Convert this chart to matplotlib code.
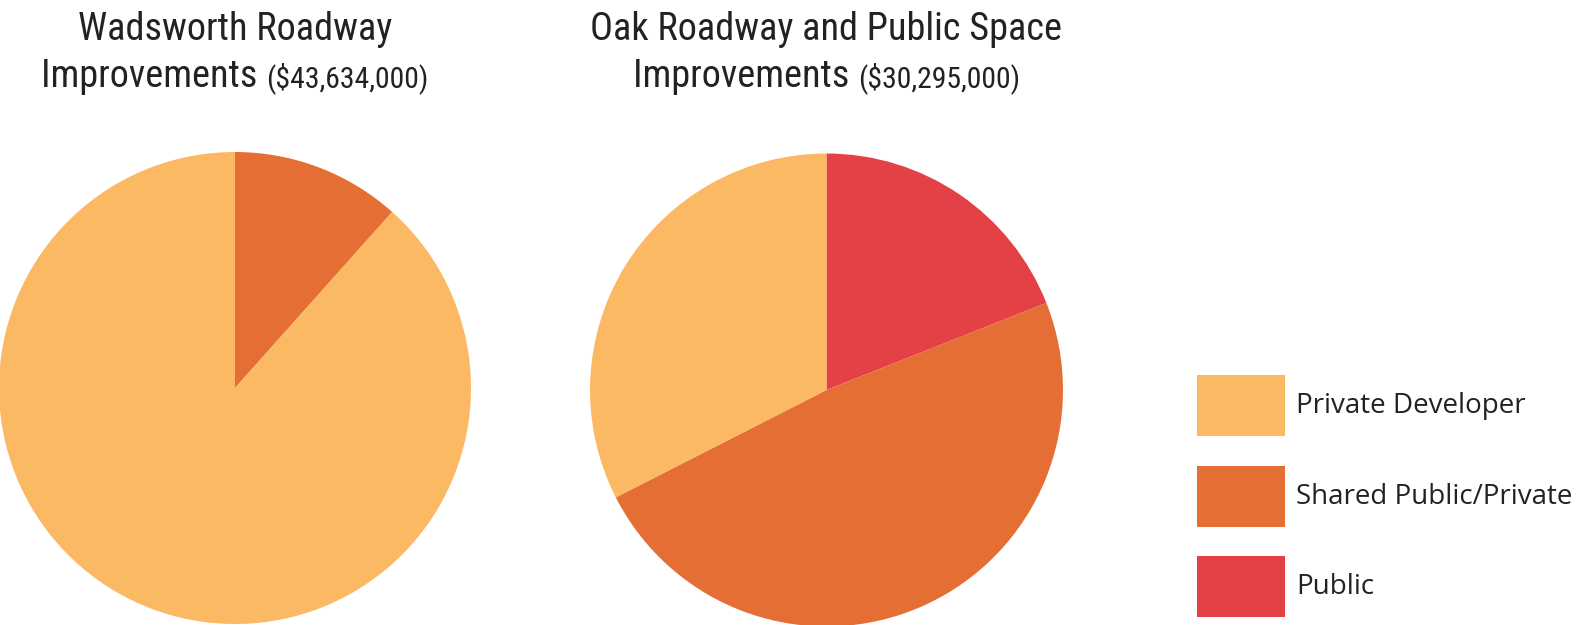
import matplotlib
matplotlib.use("Agg")
import matplotlib.pyplot as plt
from matplotlib.patches import Rectangle
from matplotlib import font_manager

# Funding shares (percent of each project's total cost)
categories = ["Public", "Shared Public/Private", "Private Developer"]
colors = ["#E44147", "#E56E35", "#FCB964"]
wadsworth_share = [0.0, 11.6, 88.4]
oak_share = [19.0, 48.5, 32.5]

titles = [
    ("Wadsworth Roadway", "Improvements", "($43,634,000)"),
    ("Oak Roadway and Public Space", "Improvements", "($30,295,000)"),
]
legend_order = ["Private Developer", "Shared Public/Private", "Public"]

W, H = 1588, 625
fig = plt.figure(figsize=(W / 100, H / 100), dpi=100)
fig.patch.set_facecolor("white")

# Pick a narrow face for the titles if one is installed
installed = {f.name for f in font_manager.fontManager.ttflist}
preferred = ["DejaVu Sans Condensed", "Liberation Sans Narrow",
             "Roboto Condensed", "Noto Sans Condensed", "Open Sans Condensed"]
narrow = [n for n in preferred if n in installed]
narrow += sorted(n for n in installed
                 if ("Condensed" in n or "Narrow" in n) and n not in narrow)
title_font = (narrow[:1] or ["Roboto"]) + ["DejaVu Sans"]
title_size = 27.5 if narrow else 23
text_color = "#222222"


def add_pie(values, cx, cy, r):
    ax = fig.add_axes([(cx - r) / W, (H - cy - r) / H, 2 * r / W, 2 * r / H])
    ax.pie(values, colors=colors, startangle=90, counterclock=False,
           radius=1.0, wedgeprops=dict(linewidth=0))
    ax.set_xlim(-1, 1)
    ax.set_ylim(-1, 1)
    ax.axis("off")
    return ax


add_pie(wadsworth_share, 235, 388, 236)
add_pie(oak_share, 826.5, 390, 236.5)

# Titles: two lines, the cost in a smaller size after the second line
renderer = fig.canvas.get_renderer()
for (line1, line2, cost), cx in zip(titles, [235, 826.5]):
    fig.text(cx / W, 1 - 40 / H, line1, ha="center", va="baseline",
             fontsize=title_size, family=title_font, color=text_color)
    t_main = fig.text(0, 1 - 87 / H, line2 + " ", ha="left", va="baseline",
                      fontsize=title_size, family=title_font, color=text_color)
    t_cost = fig.text(0, 1 - 87 / H, cost, ha="left", va="baseline",
                      fontsize=title_size * 0.78, family=title_font,
                      color=text_color)
    w_main = t_main.get_window_extent(renderer).width
    w_cost = t_cost.get_window_extent(renderer).width
    x0 = cx - (w_main + w_cost) / 2
    t_main.set_x(x0 / W)
    t_cost.set_x((x0 + w_main) / W)

# Legend
color_of = dict(zip(categories, colors))
for label, top in zip(legend_order, [375, 466, 556]):
    fig.add_artist(Rectangle((1197 / W, 1 - (top + 61) / H), 88 / W, 61 / H,
                             transform=fig.transFigure,
                             facecolor=color_of[label], edgecolor="none"))
    fig.text(1296 / W, 1 - (top + 31) / H, label, ha="left", va="center",
             fontsize=20, family=["Open Sans", "DejaVu Sans"], color=text_color)

fig.savefig("out.png", dpi=100, facecolor="white")
